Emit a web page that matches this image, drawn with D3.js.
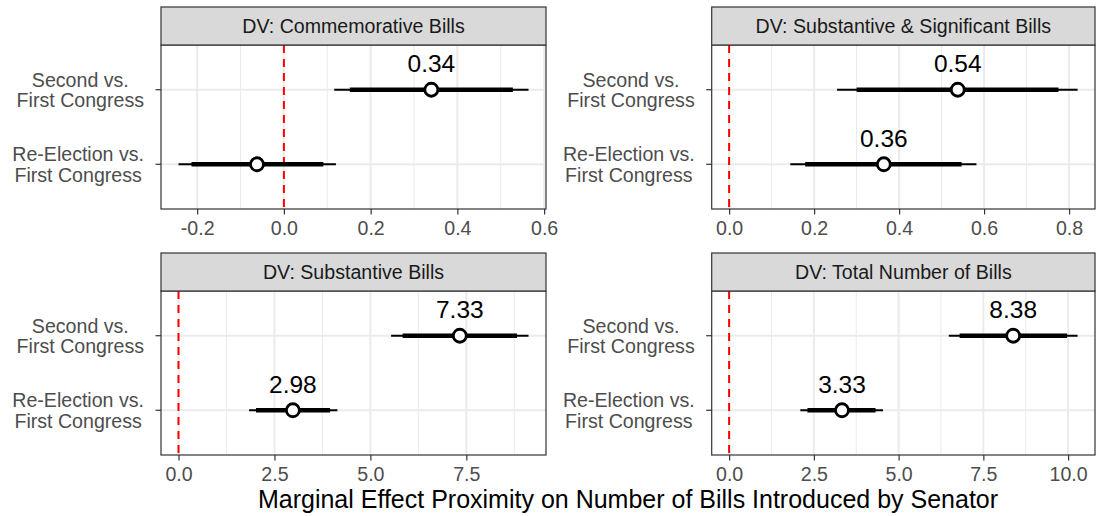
<!DOCTYPE html>
<html>
<head>
<meta charset="utf-8">
<script src="https://cdn.jsdelivr.net/npm/d3@7"></script>
<style>
  body { margin: 0; background: #fff; }
  text { font-family: "Liberation Sans", Arial, sans-serif; }
</style>
</head>
<body>
<script>
// facet titles and the two contrasts on the y axis
var panels = ["DV: Commemorative Bills", "DV: Substantive & Significant Bills",
              "DV: Substantive Bills", "DV: Total Number of Bills"];
var contrasts = [["Second vs.", "First Congress"], ["Re-Election vs.", "First Congress"]];

// per panel: [Second, Re-Election]
var estimates = [[0.34, -0.062], [0.538, 0.364], [7.33, 2.98], [8.38, 3.33]];
var thinLow   = [[0.116, -0.243], [0.254, 0.144], [5.54, 1.84], [6.48, 2.10]];
var thinHigh  = [[0.564, 0.120], [0.820, 0.582], [9.12, 4.14], [10.28, 4.54]];
var thickLow  = [[0.152, -0.213], [0.300, 0.179], [5.84, 2.02], [6.80, 2.31]];
var thickHigh = [[0.528, 0.091], [0.775, 0.547], [8.82, 3.95], [9.97, 4.32]];
var pointLabels = [["0.34", ""], ["0.54", "0.36"], ["7.33", "2.98"], ["8.38", "3.33"]];

var tickValues = [[-0.2, 0, 0.2, 0.4, 0.6], [0, 0.2, 0.4, 0.6, 0.8],
                  [0, 2.5, 5, 7.5], [0, 2.5, 5, 7.5, 10]];
var tickLabels = [["-0.2", "0.0", "0.2", "0.4", "0.6"], ["0.0", "0.2", "0.4", "0.6", "0.8"],
                  ["0.0", "2.5", "5.0", "7.5"], ["0.0", "2.5", "5.0", "7.5", "10.0"]];

var width = 1096, height = 516;
var colX = [[161, 546], [711.7, 1095]];
var rowY = [7, 253];
var stripH = 38, panelH = 164;
var axisFont = 19.6;

var svg = d3.select("body").append("svg")
    .attr("width", width)
    .attr("height", height);

panels.forEach(function(title, i) {
    var cx = colX[i % 2], top = rowY[Math.floor(i / 2)];
    var py0 = top + stripH, py1 = py0 + panelH;

    // continuous x with ggplot's 5% expansion (zero line included)
    var lo = d3.min([0].concat(thinLow[i])), hi = d3.max([0].concat(thinHigh[i]));
    var pad = (hi - lo) * 0.05;
    var x = d3.scaleLinear().domain([lo - pad, hi + pad]).range(cx);
    // discrete y: positions 1..2 with 0.6 expansion
    var y = d3.scaleLinear().domain([0.4, 2.6]).range([py1, py0]);
    var rowPos = [2, 1];

    var g = svg.append("g");

    g.append("rect")
        .attr("x", cx[0]).attr("y", py0)
        .attr("width", cx[1] - cx[0]).attr("height", panelH)
        .attr("fill", "#fff");

    // minor grid
    var ticks = tickValues[i], step = ticks[1] - ticks[0];
    var minor = d3.range(ticks[0] - step / 2, hi + pad, step).filter(function(v) {
        return x(v) > cx[0] && x(v) < cx[1];
    });
    g.selectAll(".minor").data(minor).enter().append("line")
        .attr("x1", function(d) { return x(d); }).attr("x2", function(d) { return x(d); })
        .attr("y1", py0).attr("y2", py1)
        .attr("stroke", "#ebebeb").attr("stroke-width", 1);
    g.selectAll(".major").data(ticks).enter().append("line")
        .attr("x1", function(d) { return x(d); }).attr("x2", function(d) { return x(d); })
        .attr("y1", py0).attr("y2", py1)
        .attr("stroke", "#ebebeb").attr("stroke-width", 2);
    g.selectAll(".hgrid").data(rowPos).enter().append("line")
        .attr("x1", cx[0]).attr("x2", cx[1])
        .attr("y1", function(d) { return y(d); }).attr("y2", function(d) { return y(d); })
        .attr("stroke", "#ebebeb").attr("stroke-width", 2);

    // zero reference
    g.append("line")
        .attr("x1", x(0)).attr("x2", x(0))
        .attr("y1", py0).attr("y2", py1)
        .attr("stroke", "#ff0000").attr("stroke-width", 2)
        .attr("stroke-dasharray", "8,6");

    rowPos.forEach(function(r, j) {
        var yy = y(r);
        g.append("line")
            .attr("x1", x(thinLow[i][j])).attr("x2", x(thinHigh[i][j]))
            .attr("y1", yy).attr("y2", yy)
            .attr("stroke", "#000").attr("stroke-width", 2);
        g.append("line")
            .attr("x1", x(thickLow[i][j])).attr("x2", x(thickHigh[i][j]))
            .attr("y1", yy).attr("y2", yy)
            .attr("stroke", "#000").attr("stroke-width", 4.5);
        g.append("circle")
            .attr("cx", x(estimates[i][j])).attr("cy", yy).attr("r", 6.5)
            .attr("fill", "#fff").attr("stroke", "#000").attr("stroke-width", 2.8);
        if (pointLabels[i][j]) {
            g.append("text")
                .attr("x", x(estimates[i][j])).attr("y", yy - 17.5)
                .attr("text-anchor", "middle")
                .attr("font-size", 24.5).attr("fill", "#000")
                .text(pointLabels[i][j]);
        }
    });

    // panel border + strip
    g.append("rect")
        .attr("x", cx[0]).attr("y", py0)
        .attr("width", cx[1] - cx[0]).attr("height", panelH)
        .attr("fill", "none").attr("stroke", "#333").attr("stroke-width", 1.2);
    g.append("rect")
        .attr("x", cx[0]).attr("y", top)
        .attr("width", cx[1] - cx[0]).attr("height", stripH)
        .attr("fill", "#d9d9d9").attr("stroke", "#333").attr("stroke-width", 1.2);
    g.append("text")
        .attr("x", (cx[0] + cx[1]) / 2).attr("y", top + stripH / 2 + 7)
        .attr("text-anchor", "middle")
        .attr("font-size", axisFont).attr("fill", "#1a1a1a")
        .text(title);

    // x axis
    var xAxis = d3.axisBottom(x).tickValues(ticks)
        .tickFormat(function(d, k) { return tickLabels[i][k]; })
        .tickSize(5.5).tickPadding(6.5);
    var ax = g.append("g").attr("transform", "translate(0," + py1 + ")").call(xAxis);
    ax.select(".domain").remove();
    ax.selectAll(".tick line").attr("stroke", "#333").attr("stroke-width", 1.2);
    ax.selectAll(".tick text")
        .attr("font-size", axisFont).attr("fill", "#4d4d4d")
        .style("font-family", "Liberation Sans, Arial, sans-serif");

    // y axis ticks + two-line labels
    rowPos.forEach(function(r, j) {
        var yy = y(r);
        g.append("line")
            .attr("x1", cx[0] - 5.5).attr("x2", cx[0])
            .attr("y1", yy).attr("y2", yy)
            .attr("stroke", "#333").attr("stroke-width", 1.2);
        var t = g.append("text")
            .attr("text-anchor", "middle")
            .attr("font-size", axisFont).attr("fill", "#4d4d4d");
        t.selectAll("tspan").data(contrasts[j]).enter().append("tspan")
            .attr("y", function(d, k) { return yy - 3 + k * 20.6; })
            .text(function(d) { return d; });
        var w = d3.max(t.selectAll("tspan").nodes(), function(n) { return n.getComputedTextLength(); });
        t.selectAll("tspan").attr("x", cx[0] - 17 - w / 2);
    });
});

svg.append("text")
    .attr("x", (colX[0][0] + colX[1][1]) / 2).attr("y", 507.5)
    .attr("text-anchor", "middle")
    .attr("font-size", 25).attr("fill", "#000")
    .text("Marginal Effect Proximity on Number of Bills Introduced by Senator");
</script>
</body>
</html>
